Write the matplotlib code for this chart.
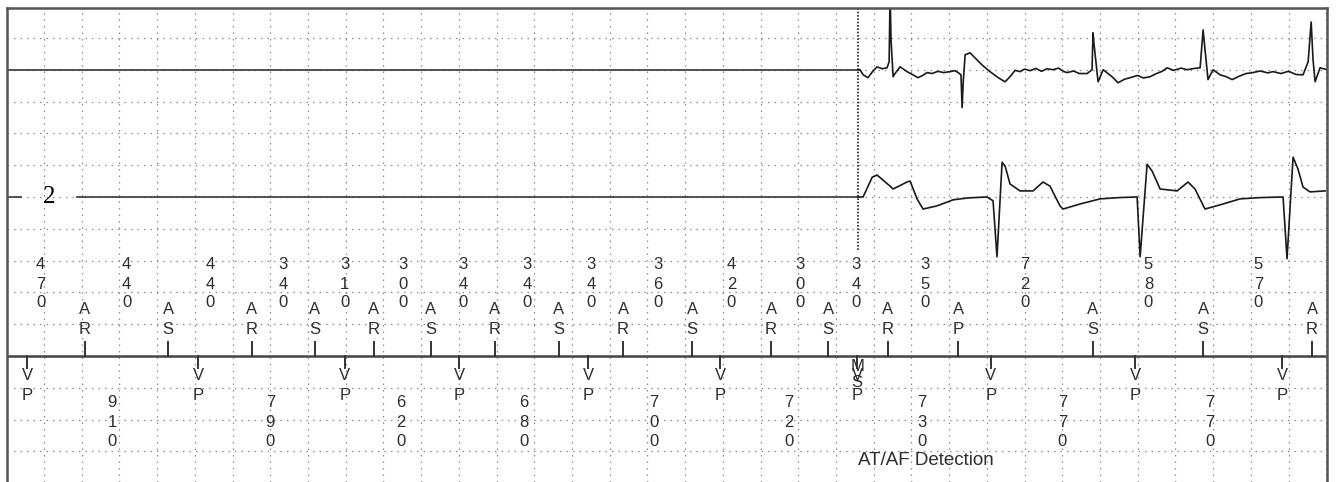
import matplotlib.pyplot as plt

# ---- marker channel (times in ms) ----
atrial_t = [417, 858, 1303, 1637, 1950, 2252, 2592, 2931, 3271, 3637, 4056, 4358, 4676, 5048, 5763, 6347, 6925]
atrial_mark = ['AR', 'AS', 'AR', 'AS', 'AR', 'AS', 'AR', 'AS', 'AR', 'AS', 'AR', 'AS', 'AR', 'AP', 'AS', 'AS', 'AR']
aa_ms = [470, 440, 440, 340, 310, 300, 340, 340, 340, 360, 420, 300, 340, 350, 720, 580, 570]

vent_t = [110, 1017, 1796, 2401, 3085, 3785, 4512, 5222, 5986, 6766]
vent_mark = ['VP', 'VP', 'VP', 'VP', 'VP', 'VP', 'VP', 'VP', 'VP', 'VP']
vv_ms = [None, 910, 790, 620, 680, 700, 720, 730, 770, 770]

ms_t = 4512          # mode switch marker
detect_t = 4517      # AT/AF detection
detect_label = 'AT/AF Detection'
ch2_name = '2'

# ---- EGM traces: time (ms), deflection from baseline (grid units) ----
ch1_t = [4517, 4528, 4544, 4570, 4595, 4618, 4645, 4671, 4682, 4687, 4692, 4703, 4713, 4740, 4777,
         4805, 4835, 4860, 4883, 4910, 4940, 4970, 5005, 5030, 5048, 5063, 5069, 5074, 5085, 5111,
         5148, 5180, 5217, 5260, 5297, 5323, 5350, 5376, 5400, 5430, 5460, 5490, 5519, 5550, 5580,
         5610, 5626, 5660, 5690, 5732, 5758, 5763, 5769, 5790, 5817, 5864, 5896, 5930, 5960, 6000,
         6030, 6066, 6100, 6130, 6156, 6190, 6230, 6262, 6300, 6331, 6347, 6352, 6373, 6400, 6437,
         6470, 6501, 6540, 6575, 6612, 6650, 6690, 6718, 6760, 6800, 6840, 6877, 6904, 6920, 6930,
         6941, 6967, 7005]
ch1_v = [0.0, 0.0, -0.16, -0.25, -0.05, 0.09, 0.03, 0.06, 0.25, 2.4, 0.94, -0.22, -0.12, 0.09, -0.06,
         -0.15, -0.25, -0.18, -0.09, -0.12, -0.05, -0.09, -0.06, -0.03, -0.09, -0.16, -1.19, -0.47, 0.47, 0.53,
         0.31, 0.12, -0.06, -0.25, -0.38, -0.22, -0.02, -0.06, 0.02, -0.03, 0.04, -0.05, 0.03, 0.0, 0.05,
         -0.06, -0.09, -0.04, -0.12, -0.12, 0.0, 1.16, 0.78, -0.38, 0.0, -0.22, -0.41, -0.30, -0.25, -0.18,
         -0.26, -0.22, -0.12, -0.05, 0.06, -0.02, 0.05, 0.0, 0.04, 0.06, 1.25, 0.94, -0.31, 0.0, -0.16,
         -0.22, -0.31, -0.20, -0.12, -0.09, -0.04, -0.10, -0.06, -0.12, -0.05, -0.15, -0.16, 0.25, 1.5, 0.31,
         -0.38, 0.06, 0.0]

ch2_t = [4517, 4544, 4592, 4618, 4687, 4703, 4777, 4793, 4830, 4862, 4936, 5021, 5100, 5201, 5233,
         5254, 5281, 5297, 5323, 5376, 5445, 5498, 5535, 5588, 5604, 5695, 5801, 5900, 5997, 6013,
         6050, 6077, 6119, 6209, 6267, 6304, 6357, 6453, 6543, 6650, 6771, 6792, 6824, 6850, 6877,
         6914, 6994]
ch2_v = [0.0, 0.0, 0.62, 0.69, 0.34, 0.25, 0.47, 0.5, -0.06, -0.38, -0.28, -0.09, -0.03, 0.0, -0.12,
         -1.88, 1.09, 0.97, 0.41, 0.19, 0.19, 0.47, 0.34, -0.28, -0.38, -0.22, -0.06, -0.02, 0.0, -1.88,
         1.03, 0.81, 0.25, 0.19, 0.47, 0.25, -0.38, -0.22, -0.06, -0.02, 0.0, -1.94, 1.25, 0.88, 0.31,
         0.16, 0.19]

# ---- layout (grid units: one dotted row = 1) ----
CH1_BASE, CH2_BASE, MARK_AXIS = 12, 8, 3
X0, X1 = 4, 7004
LABEL_GAP = (78, 375)
txt_col = '#2e2e2e'
font = 'Liberation Sans'

fig = plt.figure(figsize=(13.39, 4.82), dpi=100)
ax = fig.add_axes([7 / 1339, 0, 1320 / 1339, 474 / 482])
ax.set_xlim(X0, X1)
ax.set_ylim(-0.96, 13.94)

ax.set_xticks(range(200, 7001, 200))
ax.set_yticks(range(0, 14))
ax.tick_params(length=0, labelbottom=False, labelleft=False)
ax.grid(True, color='#8c8c8c', linewidth=0.9, linestyle=(0, (1.2, 4)))
for side in ['left', 'top', 'right']:
    ax.spines[side].set_color('#555555')
    ax.spines[side].set_linewidth(1.8)
ax.spines['bottom'].set_visible(False)

# baselines before onset
ax.plot([X0, detect_t], [CH1_BASE, CH1_BASE], color='#444444', lw=1.3)
ax.plot([X0, LABEL_GAP[0]], [CH2_BASE, CH2_BASE], color='#444444', lw=1.3)
ax.plot([LABEL_GAP[1], detect_t], [CH2_BASE, CH2_BASE], color='#444444', lw=1.3)
ax.text((LABEL_GAP[0] + LABEL_GAP[1]) / 2, CH2_BASE, ch2_name, family='Liberation Serif',
        fontsize=18, ha='center', va='center', color='black')

# traces
ax.plot(ch1_t, [CH1_BASE + v for v in ch1_v], color='#1a1a1a', lw=1.2)
ax.plot(ch2_t, [CH2_BASE + v for v in ch2_v], color='#1a1a1a', lw=1.2)

# detection line
ax.plot([detect_t, detect_t], [6.33, 14], color='#222222', lw=1.2, linestyle=(0, (1, 1)))
ax.text(detect_t, -0.27, detect_label, family=font, fontsize=13.5, color=txt_col,
        ha='left', va='center')

# marker axis
ax.plot([X0, X1], [MARK_AXIS, MARK_AXIS], color='#444444', lw=1.8)

def stack(x, chars, rows):
    for c, y in zip(chars, rows):
        ax.text(x, y, c, family=font, fontsize=12, color=txt_col, ha='center', va='center')

for t, m, iv in zip(atrial_t, atrial_mark, aa_ms):
    ax.plot([t, t], [MARK_AXIS, 3.44], color='#333333', lw=1.4)
    stack(t, m, [4.45, 3.82])
    stack(t - iv / 2, str(iv), [5.89, 5.26, 4.67])

for t, m, iv in zip(vent_t, vent_mark, vv_ms):
    ax.plot([t, t], [MARK_AXIS, 2.62], color='#333333', lw=1.4)
    stack(t, m, [2.40, 1.77])
    if iv is not None:
        stack(t - iv / 2, str(iv), [1.54, 0.90, 0.31])

# mode switch letters overprint the VP marker, as in the device printout
stack(ms_t, 'MS', [2.66, 2.18])

fig.savefig('out.png', dpi=100)
